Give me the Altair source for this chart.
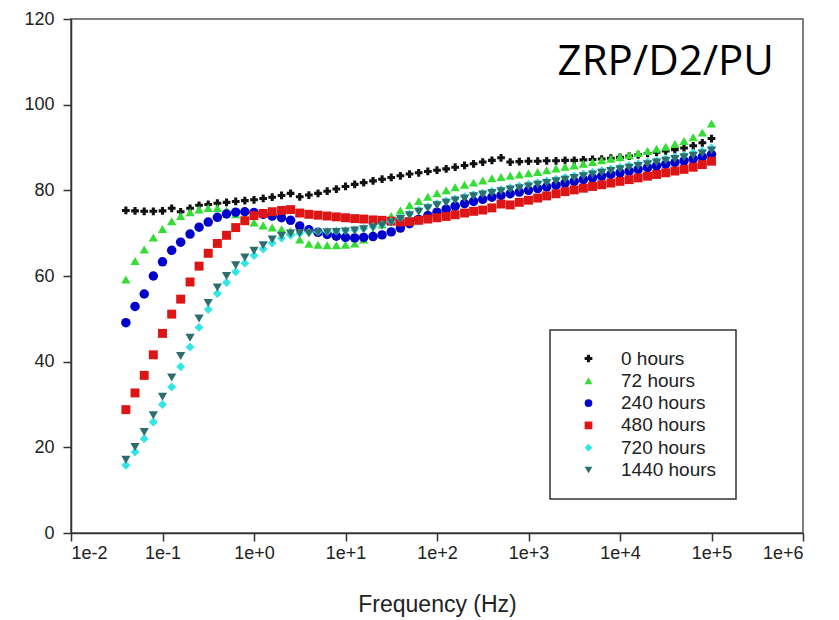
import altair as alt
import pandas as pd

freq = [0.0398, 0.0501, 0.0631, 0.0794,
        0.1, 0.126, 0.158, 0.2, 0.251, 0.316, 0.398, 0.501, 0.631, 0.794,
        1.0, 1.26, 1.58, 2.0, 2.51, 3.16, 3.98, 5.01, 6.31, 7.94,
        10, 12.6, 15.8, 20, 25.1, 31.6, 39.8, 50.1, 63.1, 79.4,
        100, 126, 158, 200, 251, 316, 398, 501, 631, 794,
        1000, 1260, 1580, 2000, 2510, 3160, 3980, 5010, 6310, 7940,
        10000, 12600, 15800, 20000, 25100, 31600, 39800, 50100, 63100, 79400,
        100000]

h0 = [75.3, 75.2, 75.1, 75.1, 75.2, 75.8, 75.0, 75.8, 76.5, 76.7,
      77.0, 77.2, 77.4, 77.6, 77.8, 78.1, 78.4, 78.8, 79.3, 78.5,
      78.9, 79.3, 79.8, 80.3, 80.9, 81.4, 81.8, 82.2, 82.6, 83.0,
      83.4, 83.8, 84.1, 84.4, 84.7, 85.0, 85.4, 85.8, 86.2, 86.6,
      87.0, 87.6, 86.6, 86.7, 86.8, 86.8, 86.9, 86.9, 87.0, 87.0,
      87.1, 87.2, 87.3, 87.5, 87.7, 88.0, 88.3, 88.6, 88.9, 89.2,
      89.5, 89.9, 90.4, 91.1, 92.1]

h72 = [59.2, 63.5, 66.2, 69.0, 71.0, 72.8, 74.0, 74.9, 75.5, 75.9,
       75.9, 75.3, 74.4, 73.4, 72.5, 71.8, 71.3, 70.9, 70.5, 68.5,
       67.5, 67.3, 67.2, 67.2, 67.3, 67.6, 68.5, 70.0, 72.0, 74.0,
       75.3, 76.5, 77.5, 78.5, 79.3, 80.0, 80.7, 81.3, 81.8, 82.3,
       82.8, 83.1, 83.4, 83.7, 84.0, 84.3, 84.7, 85.1, 85.5, 85.8,
       86.2, 86.6, 87.0, 87.4, 87.8, 88.2, 88.7, 89.2, 89.7, 90.2,
       90.8, 91.5, 92.4, 93.5, 95.6]

h240 = [49.1, 52.9, 55.8, 60.0, 63.3, 66.0, 67.9, 69.8, 71.4, 72.6,
        73.7, 74.5, 74.9, 75.0, 74.8, 74.4, 74.0, 73.6, 73.0, 71.7,
        70.8, 70.2, 69.7, 69.3, 69.0, 68.9, 69.0, 69.2, 69.6, 70.3,
        71.2, 72.2, 73.2, 74.1, 74.9, 75.6, 76.3, 76.9, 77.4, 77.9,
        78.4, 78.8, 79.2, 79.6, 80.0, 80.4, 80.8, 81.2, 81.7, 82.1,
        82.5, 82.9, 83.3, 83.7, 84.1, 84.5, 84.9, 85.3, 85.7, 86.1,
        86.5, 86.9, 87.3, 87.8, 88.4]

h480 = [28.8, 32.7, 36.8, 41.6, 46.6, 51.1, 54.6, 58.6, 62.3, 65.3,
        67.6, 69.5, 71.3, 72.9, 74.1, 74.6, 75.0, 75.3, 75.5, 74.7,
        74.4, 74.2, 74.0, 73.8, 73.6, 73.4, 73.3, 73.1, 73.0, 72.8,
        72.6, 72.7, 73.0, 73.3, 73.6, 73.9, 74.3, 74.7, 75.1, 75.4,
        75.9, 76.8, 76.6, 77.2, 77.7, 78.2, 78.7, 79.2, 79.7, 80.1,
        80.5, 80.9, 81.3, 81.7, 82.1, 82.5, 82.9, 83.3, 83.7, 84.1,
        84.5, 84.9, 85.4, 86.0, 86.8]

h720 = [15.8, 18.9, 22.0, 25.9, 30.0, 34.1, 38.8, 43.4, 48.0, 52.2,
        55.9, 58.5, 61.0, 63.0, 64.8, 66.3, 67.7, 68.8, 69.5, 70.0,
        70.2, 70.3, 70.4, 70.5, 70.6, 70.8, 71.1, 71.5, 72.0, 72.7,
        73.6, 74.5, 75.4, 76.2, 76.9, 77.5, 78.0, 78.5, 79.0, 79.4,
        79.8, 80.2, 80.6, 81.0, 81.4, 81.8, 82.2, 82.6, 83.0, 83.4,
        83.8, 84.2, 84.6, 85.0, 85.4, 85.8, 86.2, 86.6, 87.0, 87.4,
        87.8, 88.2, 88.7, 89.2, 89.9]

h1440 = [17.1, 20.1, 23.6, 27.5, 31.8, 36.3, 41.3, 45.6, 50.1, 53.7,
         57.3, 60.0, 62.5, 64.3, 65.9, 67.2, 68.5, 69.4, 69.9, 70.0,
         70.0, 70.1, 70.2, 70.3, 70.4, 70.6, 70.9, 71.3, 71.8, 72.5,
         73.3, 74.2, 75.0, 75.8, 76.5, 77.1, 77.6, 78.1, 78.6, 79.0,
         79.4, 79.8, 80.2, 80.5, 80.9, 81.3, 81.7, 82.1, 82.5, 82.9,
         83.3, 83.7, 84.1, 84.5, 84.9, 85.3, 85.7, 86.1, 86.5, 86.9,
         87.3, 87.7, 88.1, 88.6, 89.3]

series_names = ["0 hours", "72 hours", "240 hours", "480 hours", "720 hours", "1440 hours"]
series_values = [h0, h72, h240, h480, h720, h1440]
series_colors = ["#111111", "#33dd33", "#0000cc", "#dd1515", "#33e6e6", "#2f6e6e"]
series_shapes = ["cross", "triangle-up", "circle", "square", "diamond", "triangle-down"]
series_sizes = [60, 85, 90, 80, 80, 85]

x_ticks = [0.01, 0.1, 1, 10, 100, 1000, 10000, 100000, 1000000]
y_ticks = [0, 20, 40, 60, 80, 100, 120]
panel_label = "ZRP/D2/PU"

rows = []
for order, (name, vals, sz) in enumerate(zip(series_names, series_values, series_sizes)):
    for f, v in zip(freq, vals):
        rows.append({"series": name, "freq": f, "value": v, "order": order, "sz": sz})
df = pd.DataFrame(rows)

legend = alt.Legend(title=None, orient="none", legendX=479, legendY=311)

points = alt.Chart(df).mark_point(filled=True, opacity=1).encode(
    x=alt.X("freq:Q",
            scale=alt.Scale(type="log", domain=[0.01, 1000000], nice=False),
            axis=alt.Axis(values=x_ticks, title="Frequency (Hz)",
                          labelExpr="'1e' + (datum.value >= 1 ? '+' : '') + round(log(datum.value) / LN10)",
                          labelPadding=3, titlePadding=31, titleFontSize=23,
                          titleFontWeight="normal", titleColor="#222",
                          titleFont="Liberation Sans")),
    y=alt.Y("value:Q",
            scale=alt.Scale(domain=[0, 120], nice=False),
            axis=alt.Axis(values=y_ticks, title=None, labelPadding=9)),
    color=alt.Color("series:N",
                    scale=alt.Scale(domain=series_names, range=series_colors),
                    legend=legend),
    shape=alt.Shape("series:N",
                    scale=alt.Scale(domain=series_names, range=series_shapes),
                    legend=legend),
    size=alt.Size("sz:Q", scale=None, legend=None),
    order=alt.Order("order:Q"),
)

label = alt.Chart(pd.DataFrame({"t": [panel_label]})).mark_text(
    align="right", baseline="alphabetic", fontSize=42, font="Open Sans",
    fontWeight="normal", color="black"
).encode(text="t:N", x=alt.value(703), y=alt.value(56))

chart = alt.layer(points, label).properties(
    width=732, height=514,
    autosize=alt.AutoSizeParams(type="none"),
    padding={"left": 71, "top": 19, "right": 36, "bottom": 87},
    background="white",
).configure_view(
    stroke="#555", strokeWidth=1.5
).configure_axis(
    grid=False, domainColor="#333", domainWidth=1.5, tickColor="#333",
    tickWidth=1.5, tickSize=8, labelFontSize=18, labelFont="Liberation Sans",
    labelColor="#222"
).configure_legend(
    padding=19, strokeColor="#333", strokeWidth=1.5, fillColor="white",
    labelFontSize=19, labelFont="Liberation Sans", labelColor="#222",
    symbolOffset=10, labelOffset=23, rowPadding=2.3, symbolSize=60,
    symbolStrokeWidth=0
)

chart.save("out.html", embed_options={"renderer": "svg", "actions": False})
